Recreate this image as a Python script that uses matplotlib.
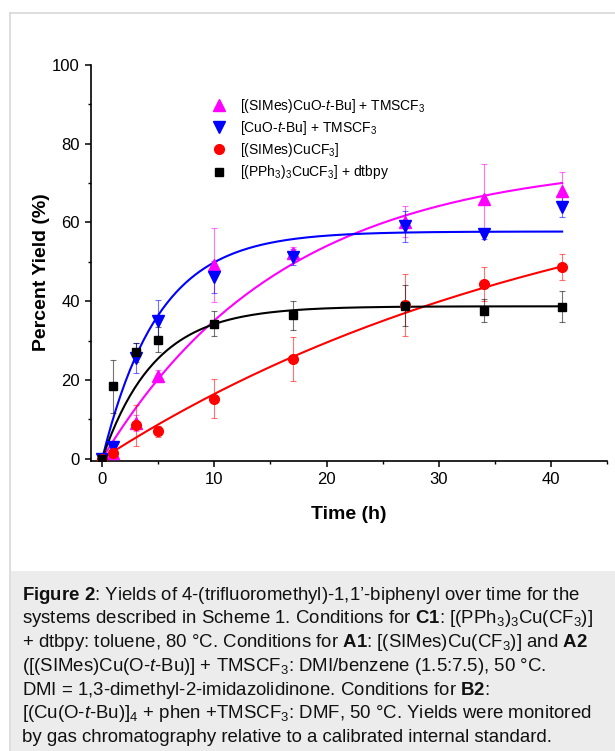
import numpy as np
import matplotlib.pyplot as plt
from matplotlib.lines import Line2D
from matplotlib.patches import Rectangle
from matplotlib.ticker import MultipleLocator

plt.rcParams['font.family'] = ['Liberation Sans', 'DejaVu Sans']
plt.rcParams['mathtext.fontset'] = 'custom'
plt.rcParams['mathtext.rm'] = 'Liberation Sans'
plt.rcParams['mathtext.it'] = 'Liberation Sans:italic'
plt.rcParams['mathtext.bf'] = 'Liberation Sans:bold'

# Tiempos de muestreo (h)
t = [0, 1, 3, 5, 10, 17, 27, 34, 41]

# Rendimientos (%)
y_a2 = [0, 1.5, 9.0, 20.9, 49.2, 52.2, 60.2, 65.9, 68.1]
e_a2 = [0, 0.5, 2.0, 1.5, 9.5, 1.5, 4.0, 9.0, 4.6]
y_b2 = [0, 2.9, 25.6, 34.9, 46.1, 51.2, 59.0, 57.1, 64.0]
e_b2 = [0, 0.5, 3.8, 5.5, 4.0, 2.0, 3.9, 1.3, 2.7]
y_a1 = [0, 1.4, 8.5, 6.9, 15.2, 25.3, 39.0, 44.4, 48.7]
e_a1 = [0, 0.5, 5.2, 1.5, 5.0, 5.6, 7.8, 4.3, 3.4]
y_c1 = [0, 18.4, 27.0, 30.2, 34.3, 36.4, 38.9, 37.6, 38.6]
e_c1 = [0, 6.7, 2.5, 3.2, 3.2, 3.7, 5.2, 3.0, 4.0]

# Parametros de ajuste y = A(1 - exp(-k t))
fit_a2 = (76.0, 0.062)
fit_b2 = (57.7, 0.20)
fit_a1 = (80.0, 0.023)
fit_c1 = (38.7, 0.215)

labels = [r'[(SIMes)CuO-$\mathit{t}$-Bu] + TMSCF$_3$',
          r'[CuO-$\mathit{t}$-Bu] + TMSCF$_3$',
          r'[(SIMes)CuCF$_3$]',
          r'[(PPh$_3$)$_3$CuCF$_3$] + dtbpy']

W, H = 615, 751
fig = plt.figure(figsize=(W / 100, H / 100), dpi=100)

# Marco y fondo del pie de figura
fig.add_artist(Rectangle((11 / W, 0), 1, (H - 571) / H, transform=fig.transFigure,
                         facecolor='#ececec', edgecolor='none'))
fig.add_artist(Line2D([10 / W, 1], [(H - 13) / H] * 2, transform=fig.transFigure,
                      color='#d8d8d8', lw=1.2))
fig.add_artist(Line2D([10 / W] * 2, [0, (H - 13) / H], transform=fig.transFigure,
                      color='#d8d8d8', lw=1.2))

ax = fig.add_axes([91 / W, (H - 461) / H, 516 / W, 396 / H])

tt = np.linspace(0, 41, 200)
series = [
    (y_a2, e_a2, fit_a2, '#ff00ff', '^', 8),
    (y_b2, e_b2, fit_b2, '#0000ff', 'v', 8),
    (y_a1, e_a1, fit_a1, '#ff0000', 'o', 7),
    (y_c1, e_c1, fit_c1, '#000000', 's', 6.3),
]

handles = []
for i, (y, e, fit, c, m, ms) in enumerate(series):
    ax.errorbar(t, y, yerr=e, fmt='none', ecolor=c, elinewidth=0.8, capsize=2.5,
                capthick=0.8, alpha=0.55, zorder=2 + i)
    A, k = fit
    ax.plot(tt, A * (1 - np.exp(-k * tt)), color=c, lw=1.5, zorder=2 + i)
    h, = ax.plot(t, y, linestyle='none', marker=m, color=c, markersize=ms, zorder=6 + i)
    handles.append(h)

ax.set_xlim(-1, 45)
ax.set_ylim(-0.6, 100)
ax.xaxis.set_major_locator(MultipleLocator(10))
ax.xaxis.set_minor_locator(MultipleLocator(5))
ax.yaxis.set_major_locator(MultipleLocator(20))
ax.yaxis.set_minor_locator(MultipleLocator(10))
ax.spines['top'].set_visible(False)
ax.spines['right'].set_visible(False)
for s in ['left', 'bottom']:
    ax.spines[s].set_linewidth(1.2)
ax.tick_params(which='major', direction='out', length=4.5, width=1.1, labelsize=12)
ax.tick_params(which='minor', direction='out', length=2.5, width=1.0)

ax.set_xlabel('Time (h)', fontsize=14, fontweight='bold')
ax.set_ylabel('Percent Yield (%)', fontsize=14, fontweight='bold')
ax.xaxis.set_label_coords(0.5, -0.113)
ax.yaxis.set_label_coords(-0.08, 0.477)

ax.legend(handles, labels, loc='upper left', bbox_to_anchor=(0.222, 0.937),
          frameon=False, fontsize=10, handlelength=1.0, handletextpad=1.0,
          labelspacing=0.3, borderpad=0)

# Pie de figura
caption = [
    r'$\mathbf{Figure\ 2}$: Yields of 4-(trifluoromethyl)-1,1’-biphenyl over time for the',
    r'systems described in Scheme 1. Conditions for $\mathbf{C1}$: [(PPh$_3$)$_3$Cu(CF$_3$)]',
    r'+ dtbpy: toluene, 80 °C. Conditions for $\mathbf{A1}$: [(SIMes)Cu(CF$_3$)] and $\mathbf{A2}$',
    r'([(SIMes)Cu(O-$\mathit{t}$-Bu)] + TMSCF$_3$: DMI/benzene (1.5:7.5), 50 °C.',
    r'DMI = 1,3-dimethyl-2-imidazolidinone. Conditions for $\mathbf{B2}$:',
    r'[(Cu(O-$\mathit{t}$-Bu)]$_4$ + phen +TMSCF$_3$: DMF, 50 °C. Yields were monitored',
    r'by gas chromatography relative to a calibrated internal standard.',
]
for i, line in enumerate(caption):
    fig.text(22 / W, (H - (595 + 23.8 * i)) / H, line, fontsize=13.4, va='center',
             ha='left', color='#111111')

fig.savefig('out.png', dpi=100)
